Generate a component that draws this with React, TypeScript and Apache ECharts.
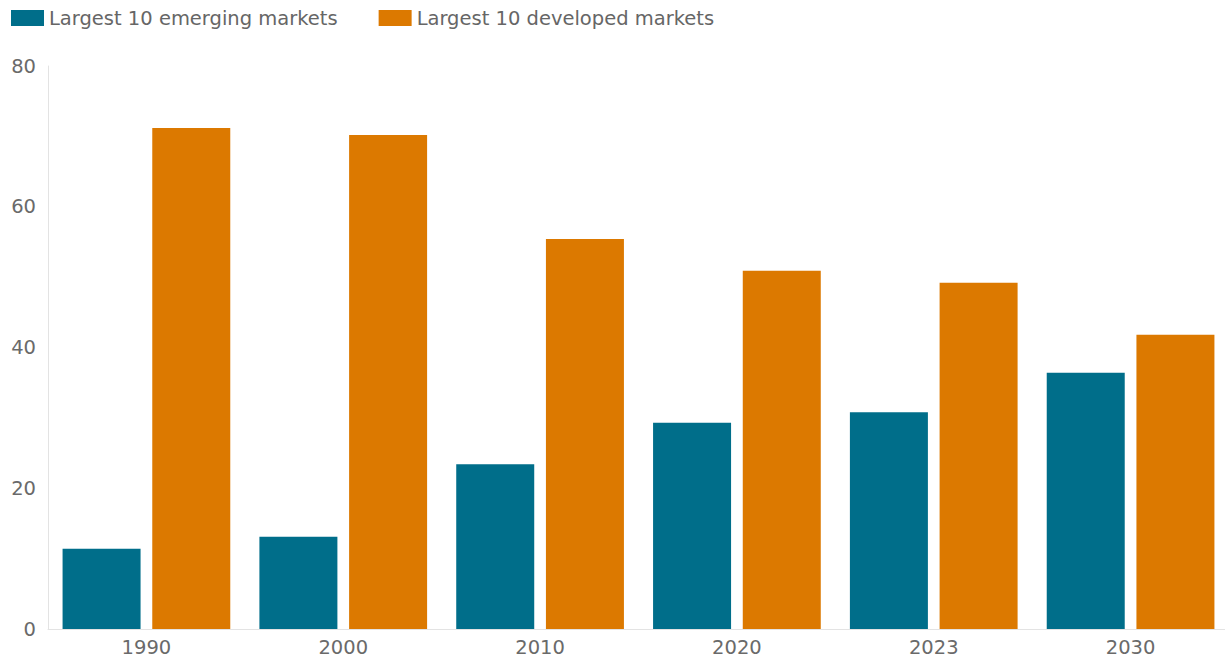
import React, { useEffect, useRef } from "react";
import * as echarts from "echarts";

const categories = ["1990", "2000", "2010", "2020", "2023", "2030"];
const emerging = [11.4, 13.1, 23.4, 29.3, 30.8, 36.4];
const developed = [71.2, 70.2, 55.4, 50.9, 49.2, 41.8];
const seriesNames = ["Largest 10 emerging markets", "Largest 10 developed markets"];

export default function App() {
  const ref = useRef<HTMLDivElement>(null);
  useEffect(() => {
    if (!ref.current) return;
    const chart = echarts.init(ref.current, null, { renderer: "svg" });
    const font = "DejaVu Sans";
    chart.setOption({
      animation: false,
      textStyle: { fontFamily: font },
      legend: {
        left: 6,
        top: 3,
        itemWidth: 33,
        itemHeight: 16,
        itemGap: 41,
        icon: "rect",
        textStyle: { fontSize: 19.5, color: "#666", fontFamily: font },
        data: seriesNames,
      },
      grid: { left: 48, right: 0, top: 66, bottom: 31, containLabel: false },
      xAxis: {
        type: "category",
        data: categories,
        axisLine: { show: true, lineStyle: { color: "#e3e3e3", width: 1 } },
        axisTick: { show: false },
        axisLabel: { fontSize: 19.5, color: "#6a6a6a", margin: 8, fontFamily: font },
      },
      yAxis: {
        type: "value",
        min: 0,
        max: 80,
        interval: 20,
        axisLine: { show: true, lineStyle: { color: "#e3e3e3", width: 1 } },
        axisTick: { show: false },
        splitLine: { show: false },
        axisLabel: { fontSize: 19.5, color: "#6a6a6a", margin: 12, fontFamily: font },
      },
      series: [
        {
          name: seriesNames[0],
          type: "bar",
          data: emerging,
          barWidth: 78,
          barGap: "15%",
          itemStyle: { color: "#006e8a" },
        },
        {
          name: seriesNames[1],
          type: "bar",
          data: developed,
          barWidth: 78,
          barGap: "15%",
          itemStyle: { color: "#dc7900" },
        },
      ],
    });
    return () => chart.dispose();
  }, []);
  return (
    <div
      style={{ position: "fixed", left: 0, top: 0, width: 1225, height: 660, overflow: "hidden", background: "#fff" }}
    >
      <div ref={ref} style={{ width: 1229, height: 660 }} />
    </div>
  );
}
